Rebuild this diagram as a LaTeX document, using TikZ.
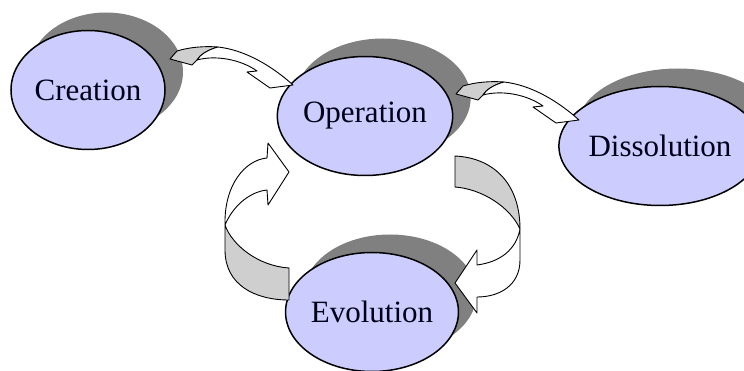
\documentclass[tikz,border=0pt]{standalone}
\usepackage{fontspec}
\setmainfont{Liberation Serif}
\usetikzlibrary{shapes.geometric,shadows}
\definecolor{stagefill}{HTML}{CCCCFF}
\definecolor{stageshadow}{HTML}{808080}
\definecolor{ribbonunder}{HTML}{CFCFCF}
\tikzset{
  stage/.style={ellipse, draw=black, line width=1.5pt, fill=stagefill,
    minimum width=154pt, minimum height=119pt, inner sep=0pt,
    font=\fontsize{31}{31}\selectfont, text=black!90!blue,
    drop shadow={shadow xshift=18pt, shadow yshift=18pt,
      fill=stageshadow, opacity=1}},
  ribbontop/.style={draw=black, line width=0.9pt, fill=white, line join=round},
  ribbonback/.style={draw=black, line width=0.9pt, fill=ribbonunder, line join=round}
}
\begin{document}
\begin{tikzpicture}[x=1pt,y=-1pt]
\useasboundingbox (0,0) rectangle (744,371);

% the four stages of the life cycle
\node[stage] (creation)    at (88,90)   {Creation};
\node[stage] (operation)   at (365,116) {Operation};
\node[stage] (dissolution) at (660,146) {Dissolution};
\node[stage] (evolution)   at (372,312) {Evolution};

% flat twisted arrow, Creation -> Operation
\begin{scope}
  \draw[ribbonback] (170,59) -- (177,51) .. controls (190,47) and (205,46) .. (218,47)
    .. controls (207,50) and (200,55) .. (197,60) -- (192,65) -- cycle;
  \draw[ribbontop] (218,47) .. controls (245,50) and (272,66) .. (293,85)
    -- (270,88) -- (247,72) -- (257,71)
    .. controls (240,59) and (215,55) .. (197,60)
    .. controls (200,55) and (207,50) .. (218,47) -- cycle;
\end{scope}

% same arrow, Operation -> Dissolution
\begin{scope}[shift={(286,35)}]
  \draw[ribbonback] (170,59) -- (177,51) .. controls (190,47) and (205,46) .. (218,47)
    .. controls (207,50) and (200,55) .. (197,60) -- (192,65) -- cycle;
  \draw[ribbontop] (218,47) .. controls (245,50) and (272,66) .. (293,85)
    -- (270,88) -- (247,72) -- (257,71)
    .. controls (240,59) and (215,55) .. (197,60)
    .. controls (200,55) and (207,50) .. (218,47) -- cycle;
\end{scope}

% curved arrow, Operation -> Evolution (right side)
\draw[ribbonback] (455,156) .. controls (495,158) and (520,185) .. (520,229)
  .. controls (510,207) and (482,189) .. (455,187) -- cycle;
\draw[ribbontop] (520,229) -- (520,260) .. controls (520,285) and (500,297) .. (477,297)
  -- (477,313) -- (455,283) -- (477,250) -- (477,265)
  .. controls (500,262) and (516,250) .. (520,229) -- cycle;

% curved arrow, Evolution -> Operation (left side)
\draw[ribbonback] (289,268) -- (289,300) .. controls (255,300) and (225,285) .. (225,250)
  -- (225,225) .. controls (232,245) and (258,266) .. (289,268) -- cycle;
\draw[ribbontop] (225,225) .. controls (224,185) and (245,160) .. (267,158)
  -- (268,143) -- (289,172) -- (268,205) -- (267,190)
  .. controls (248,192) and (232,208) .. (225,225) -- cycle;
\end{tikzpicture}
\end{document}
